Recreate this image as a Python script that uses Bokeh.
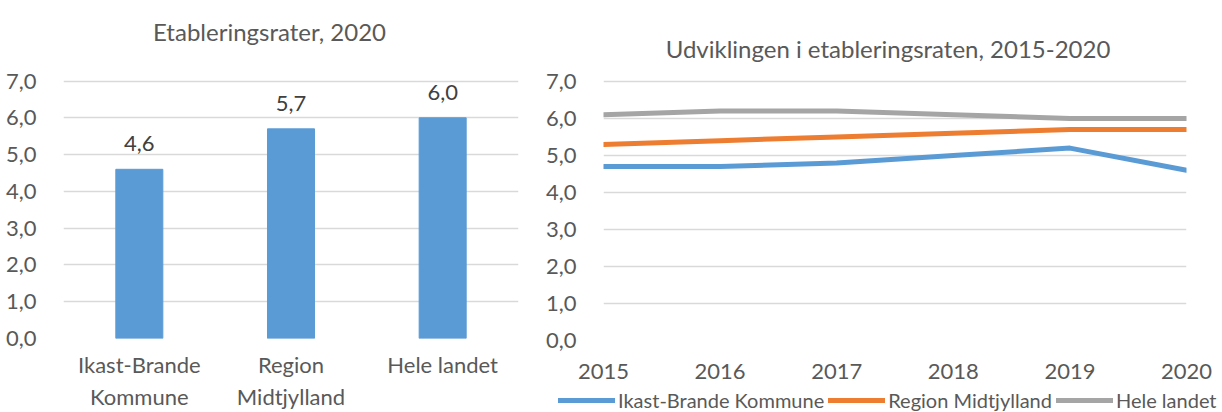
from bokeh.plotting import figure
from bokeh.models import (ColumnDataSource, FixedTicker, Legend, LegendItem,
                          LabelSet, Label)
from bokeh.core.properties import value
from bokeh.layouts import row, column
from bokeh.embed import file_html
from bokeh.resources import INLINE

# ---------------- data ----------------
categories = ["Ikast-Brande\nKommune", "Region\nMidtjylland", "Hele landet"]
rates_2020 = [4.6, 5.7, 6.0]

years = [2015, 2016, 2017, 2018, 2019, 2020]
ikast_brande = [4.7, 4.7, 4.8, 5.0, 5.2, 4.6]
region_midtjylland = [5.3, 5.4, 5.5, 5.6, 5.7, 5.7]
hele_landet = [6.1, 6.2, 6.2, 6.1, 6.0, 6.0]
series_names = ["Ikast-Brande Kommune", "Region Midtjylland", "Hele landet"]

y_ticks = [0, 1, 2, 3, 4, 5, 6, 7]
y_tick_labels = ["0,0", "1,0", "2,0", "3,0", "4,0", "5,0", "6,0", "7,0"]

title_left = "Etableringsrater, 2020"
title_right = "Udviklingen i etableringsraten, 2015-2020"

# ---------------- style ----------------
FONT = "Lato"
TXT = "#595959"
GRID = "#D9D9D9"
BLUE = "#5B9BD5"
ORANGE = "#ED7D31"
GRAY = "#A5A5A5"
COLORS = [BLUE, ORANGE, GRAY]
TICK_SIZE = "22px"
TITLE_SIZE = "24px"

PX_PER_UNIT = 37.0
FRAME_H = 340
Y_TOP = FRAME_H / PX_PER_UNIT   # room above 7,0 for the chart title


def style_axes(p):
    p.outline_line_color = None
    p.xgrid.grid_line_color = None
    p.ygrid.grid_line_color = GRID
    p.ygrid.grid_line_width = 1.5
    p.yaxis.ticker = FixedTicker(ticks=y_ticks)
    p.yaxis.major_label_overrides = dict(zip(y_ticks, y_tick_labels))
    for ax in (p.xaxis[0], p.yaxis[0]):
        ax.axis_line_color = None
        ax.major_tick_line_color = None
        ax.minor_tick_line_color = None
        ax.major_label_text_font = FONT
        ax.major_label_text_font_size = TICK_SIZE
        ax.major_label_text_color = TXT
    p.yaxis.major_label_standoff = 21


def add_title(p, text, **kw):
    p.add_layout(Label(text=text, text_font=FONT,
                       text_font_size=TITLE_SIZE, text_color=TXT,
                       text_align="center", text_baseline="alphabetic",
                       **kw))


# ---------------- left: bar chart ----------------
p1 = figure(x_range=categories, y_range=(0, Y_TOP), width=531, height=412,
            output_backend="svg", toolbar_location=None,
            min_border_left=63, min_border_right=13,
            min_border_top=0, min_border_bottom=72)
bar_src = ColumnDataSource(dict(
    x=categories, top=rates_2020,
    label=[f"{v:.1f}".replace(".", ",") for v in rates_2020]))
p1.vbar(x="x", top="top", width=0.31, source=bar_src,
        fill_color=BLUE, line_color=BLUE)
p1.add_layout(LabelSet(x="x", y="top", text="label", source=bar_src,
                       text_align="center", text_baseline="alphabetic",
                       y_offset=18, text_font=value(FONT),
                       text_font_size=TICK_SIZE, text_color="#404040"))
style_axes(p1)
p1.xaxis.major_label_standoff = 6
add_title(p1, title_left, x=206, x_units="screen", y=FRAME_H - 33,
          y_units="screen")

# ---------------- right: line chart ----------------
series = [ikast_brande, region_midtjylland, hele_landet]
p2 = figure(x_range=(years[0], years[-1]), y_range=(0, Y_TOP),
            width=691, height=388,
            output_backend="svg", toolbar_location=None,
            min_border_left=72, min_border_right=36,
            min_border_top=0, min_border_bottom=48)
for vals, col in zip(series, COLORS):
    p2.line(years, vals, line_color=col, line_width=5,
            line_cap="round", line_join="round")
style_axes(p2)
p2.xaxis.ticker = FixedTicker(ticks=years)
p2.xaxis.major_label_standoff = 17
add_title(p2, title_right, x=(years[0] + years[-1]) / 2, x_offset=-7,
          y=FRAME_H - 48, y_units="screen")

# ---------------- legend strip under the line chart ----------------
# same series, drawn in a strip whose ranges keep them out of view;
# only the legend of this strip is visible
leg = figure(width=691, height=24, x_range=(0, 1), y_range=(0, 1),
             output_backend="svg", toolbar_location=None,
             x_axis_location=None, y_axis_location=None,
             min_border_left=0, min_border_right=0,
             min_border_top=0, min_border_bottom=0)
leg.outline_line_color = None
leg.grid.visible = False
leg_renderers = [leg.line(years, vals, line_color=c, line_width=5,
                          line_cap="round")
                 for vals, c in zip(series, COLORS)]
legend = Legend(items=[LegendItem(label=n, renderers=[r])
                       for n, r in zip(series_names, leg_renderers)],
                orientation="horizontal", location=(27, 0),
                border_line_color=None, background_fill_alpha=0,
                padding=0, margin=0, spacing=4,
                glyph_width=57, glyph_height=22, label_height=22,
                label_standoff=3, label_text_font=FONT,
                label_text_font_size="20px", label_text_color=TXT)
leg.add_layout(legend)

layout = row(p1, column(p2, row(leg)))
open("out.html", "w").write(file_html(layout, INLINE))
